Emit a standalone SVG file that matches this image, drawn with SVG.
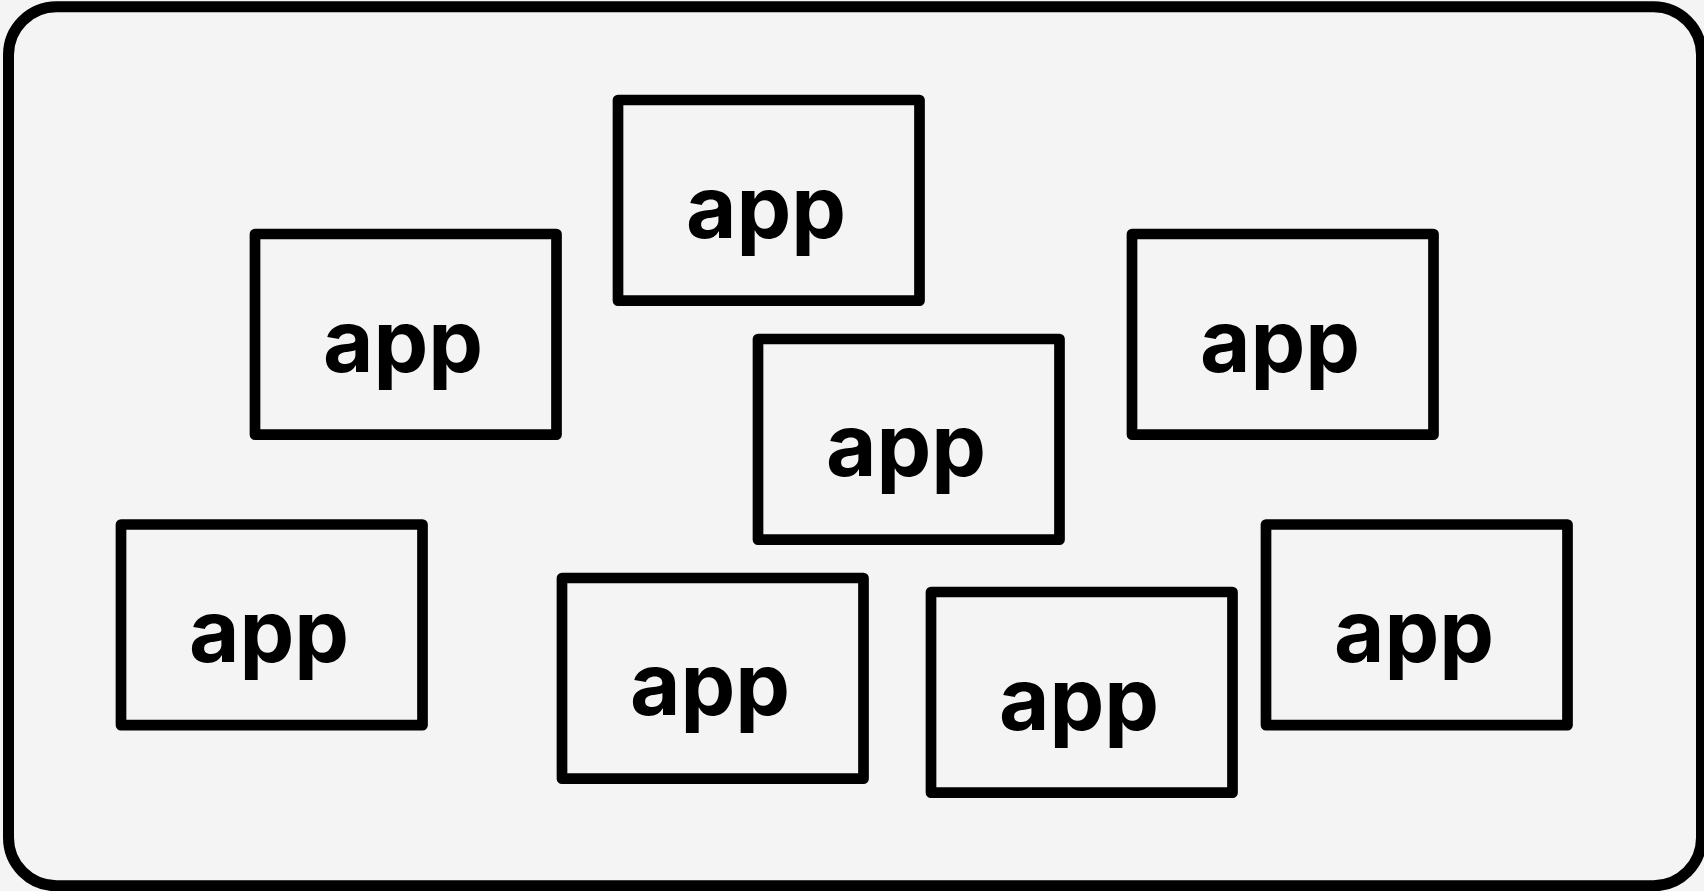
<svg xmlns="http://www.w3.org/2000/svg" width="1704" height="891" viewBox="0 0 1704 891">
<style>
.frame{fill:#f4f4f4;stroke:#000;stroke-width:11}
.box{fill:none;stroke:#000;stroke-width:10.7;stroke-linejoin:round}
.lbl{font-family:Inter,"Noto Sans",sans-serif;font-weight:700;font-size:87px;fill:#000;text-anchor:middle}
</style>
<rect x="0" y="0" width="1704" height="891" fill="#f4f4f4"/>
<rect id="container" class="frame" x="8.5" y="6.8" width="1693" height="879" rx="48" ry="48"/>
<g id="app1"><rect class="box" x="618" y="100" width="301.5" height="200.7"/><text class="lbl" x="766" y="238">app</text></g>
<g id="app2"><rect class="box" x="255" y="234" width="301.5" height="200.7"/><text class="lbl" x="403" y="372">app</text></g>
<g id="app3"><rect class="box" x="1132" y="234" width="301.5" height="200.7"/><text class="lbl" x="1280" y="372">app</text></g>
<g id="app4"><rect class="box" x="758" y="339" width="301.5" height="200.7"/><text class="lbl" x="906" y="476">app</text></g>
<g id="app5"><rect class="box" x="121" y="524.5" width="301.5" height="200.7"/><text class="lbl" x="269" y="662">app</text></g>
<g id="app6"><rect class="box" x="562" y="578" width="301.5" height="200.7"/><text class="lbl" x="710" y="715">app</text></g>
<g id="app7"><rect class="box" x="931" y="592" width="301.5" height="200.7"/><text class="lbl" x="1079" y="729.5">app</text></g>
<g id="app8"><rect class="box" x="1266" y="524.5" width="301.5" height="200.7"/><text class="lbl" x="1414" y="662">app</text></g>
<g id="connectors"></g>
</svg>
